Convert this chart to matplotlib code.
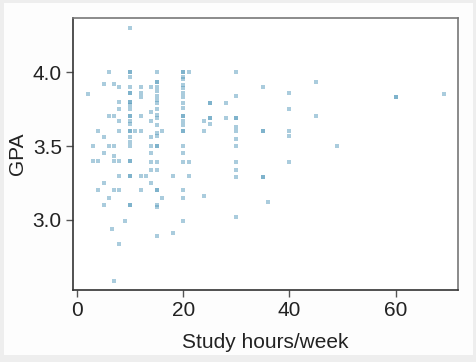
import matplotlib
matplotlib.use("Agg")
import matplotlib.pyplot as plt
from matplotlib.patches import Rectangle

plt.rcParams['font.family'] = ['Liberation Sans', 'DejaVu Sans']

# study hours per week and GPA, one column at a time
hours = (
    [2]
    + [3] * 2
    + [4] * 3
    + [5] * 5
    + [6] * 4
    + [6.5]
    + [7] * 7
    + [8] * 9
    + [9]
    + [10] * 26
    + [11]
    + [12] * 7
    + [13]
    + [14] * 9
    + [15] * 23
    + [16] * 2
    + [18] * 2
    + [20] * 22
    + [21] * 3
    + [24] * 3
    + [25] * 5
    + [28] * 2
    + [30] * 12
    + [35] * 5
    + [36]
    + [40] * 5
    + [45] * 2
    + [49]
    + [60] * 2
    + [69]
)
gpa = [
    3.85,
    3.50, 3.40,
    3.60, 3.40, 3.20,
    3.92, 3.56, 3.45, 3.25, 3.10,
    4.00, 3.70, 3.50, 3.15,
    2.94,
    3.92, 3.70, 3.50, 3.43, 3.40, 3.20, 2.59,
    3.90, 3.80, 3.75, 3.67, 3.60, 3.40, 3.30, 3.20, 2.84,
    2.99,
    4.30, 4.00, 4.00, 3.97, 3.90, 3.86, 3.86, 3.80, 3.80, 3.78, 3.75, 3.70, 3.70,
    3.67, 3.65, 3.60, 3.60, 3.56, 3.53, 3.50, 3.40, 3.40, 3.30, 3.30, 3.10, 3.10,
    3.60,
    3.90, 3.86, 3.83, 3.70, 3.60, 3.30, 3.20,
    3.30,
    3.90, 3.73, 3.67, 3.56, 3.50, 3.45, 3.39, 3.34, 3.25,
    4.00, 3.93, 3.93, 3.90, 3.87, 3.84, 3.81, 3.79, 3.75, 3.71, 3.69, 3.64,
    3.59, 3.57, 3.50, 3.50, 3.39, 3.34, 3.20, 3.20, 3.10, 3.09, 2.89,
    3.60, 3.15,
    3.30, 2.91,
    4.00, 4.00, 3.97, 3.95, 3.91, 3.89, 3.86, 3.83, 3.79, 3.76, 3.70, 3.70,
    3.67, 3.64, 3.60, 3.60, 3.50, 3.45, 3.39, 3.20, 3.15, 2.99,
    4.00, 3.39, 3.30,
    3.67, 3.60, 3.16,
    3.79, 3.79, 3.69, 3.69, 3.65,
    3.79, 3.69,
    4.00, 3.84, 3.69, 3.69, 3.63, 3.60, 3.55, 3.50, 3.39, 3.34, 3.29, 3.02,
    3.90, 3.60, 3.60, 3.29, 3.29,
    3.12,
    3.86, 3.75, 3.60, 3.57, 3.39,
    3.93, 3.70,
    3.50,
    3.83, 3.83,
    3.85,
]

x_ticks = [0, 20, 40, 60]
y_ticks = [3.0, 3.5, 4.0]

fig = plt.figure(figsize=(4.77, 3.62), dpi=100, facecolor='#eeeeee')
# white panel inside the grey border
fig.patches.append(Rectangle((0.008, 0.02), 0.984, 0.972, transform=fig.transFigure,
                             facecolor='#fdfdfd', edgecolor='none', zorder=-1))

ax = fig.add_axes([0.153, 0.199, 0.807, 0.751])
ax.set_facecolor('white')
ax.plot(hours, gpa, linestyle='', marker='s', markersize=3.2, markeredgewidth=0,
        color='#569BBD', alpha=0.5)

ax.set_xlim(-0.75, 71.7)
ax.set_ylim(2.527, 4.365)
ax.set_xticks(x_ticks)
ax.set_xticklabels([str(t) for t in x_ticks])
ax.set_yticks(y_ticks)
ax.set_yticklabels(['%.1f' % t for t in y_ticks])

for side in ['left', 'bottom']:
    ax.spines[side].set_color('#333333')
    ax.spines[side].set_linewidth(1.2)
for side in ['top', 'right']:
    ax.spines[side].set_color('#777777')
    ax.spines[side].set_linewidth(1.2)

ax.tick_params(axis='both', length=5, width=1, color='#555555',
               labelsize=15, labelcolor='#222222', pad=3)

ax.set_xlabel('Study hours/week', fontsize=15, color='#222222', labelpad=9)
ax.set_ylabel('GPA', fontsize=15, color='#222222', labelpad=4)

fig.savefig('out.png', dpi=100, facecolor=fig.get_facecolor())
